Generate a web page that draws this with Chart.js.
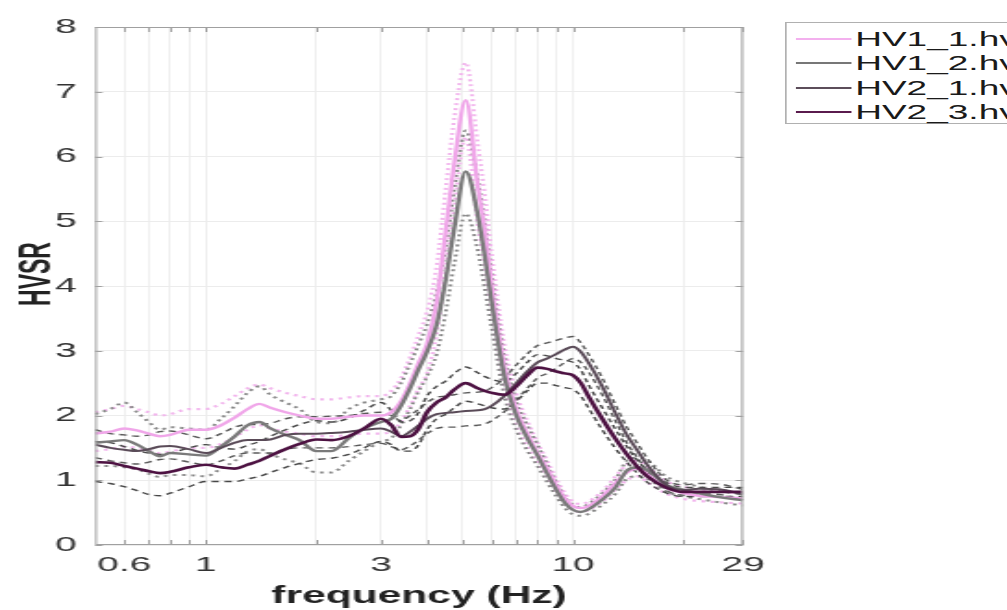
<!DOCTYPE html>
<html>
<head>
<meta charset="utf-8">
<script src="https://cdn.jsdelivr.net/npm/chart.js@4.4.0/dist/chart.umd.min.js"></script>
<style>
  html, body { margin: 0; padding: 0; background: #fff; overflow: hidden; width: 1007px; height: 610px; }
  /* the source figure is stretched ~1.85x horizontally, so draw narrow and stretch */
  #stage { position: absolute; left: 0; top: 0; width: 544px; height: 610px; transform: scaleX(1.851); transform-origin: 0 0; }
  #legend { position: absolute; left: 424px; top: 22px; width: 150px; height: 100px; border: 1px solid #b0b0b0; background: #fff;
            font-family: "Liberation Sans", Arial, sans-serif; font-size: 20px; color: #1a1a1a; }
  .row { position: absolute; left: 0; height: 24px; line-height: 24px; white-space: nowrap; }
  .row i { position: absolute; left: 5px; top: 11px; width: 30px; height: 0; border-top: 2px solid; }
  .row span { position: absolute; left: 37px; }
</style>
</head>
<body>
<div id="stage">
  <canvas id="hvsr"></canvas>
  <div id="legend"></div>
</div>
<script>
// frequency samples (Hz)
const freqs = [0.5, 0.55, 0.6, 0.65, 0.7, 0.75, 0.8, 0.9, 1.0, 1.1, 1.2, 1.3, 1.4, 1.5, 1.65, 1.8, 2.0, 2.2, 2.45, 2.7,
               3.0, 3.2, 3.4, 3.6, 3.8, 4.0, 4.25, 4.5, 4.75, 5.1, 5.5, 5.75, 6.0, 6.5, 7.0, 7.5, 8.0, 8.5, 9.0, 9.5,
               10, 10.5, 11, 12, 13, 14, 15, 16, 18, 20, 22, 25, 29];

// HV1_1
const hv1_1 = [1.72, 1.75, 1.8, 1.77, 1.72, 1.68, 1.7, 1.78, 1.78, 1.85, 1.97, 2.1, 2.18, 2.12, 2.05, 2.0, 1.95, 1.95, 1.98, 2.0,
               2.0, 2.05, 2.22, 2.5, 2.82, 3.1, 3.75, 4.85, 5.9, 6.87, 5.55, 4.85, 4.0, 2.75, 2.1, 1.72, 1.42, 1.18, 0.92, 0.72,
               0.6, 0.57, 0.6, 0.75, 0.95, 1.12, 1.18, 1.08, 0.88, 0.8, 0.76, 0.74, 0.72];
const hv1_1_up = [2.05, 2.1, 2.15, 2.1, 2.05, 2.0, 2.02, 2.1, 2.1, 2.18, 2.3, 2.42, 2.48, 2.42, 2.35, 2.3, 2.25, 2.25, 2.28, 2.3,
                  2.3, 2.38, 2.58, 2.9, 3.25, 3.6, 4.3, 5.5, 6.6, 7.45, 6.2, 5.4, 4.5, 3.1, 2.35, 1.92, 1.58, 1.3, 1.02, 0.8,
                  0.67, 0.63, 0.67, 0.83, 1.05, 1.24, 1.3, 1.2, 0.98, 0.9, 0.85, 0.82, 0.8];
const hv1_1_lo = [1.45, 1.48, 1.52, 1.5, 1.46, 1.42, 1.44, 1.5, 1.5, 1.56, 1.67, 1.78, 1.85, 1.8, 1.75, 1.72, 1.68, 1.68, 1.7, 1.72,
                  1.72, 1.76, 1.9, 2.15, 2.42, 2.65, 3.25, 4.25, 5.25, 6.3, 4.95, 4.3, 3.55, 2.42, 1.85, 1.52, 1.27, 1.05, 0.82, 0.64,
                  0.54, 0.51, 0.54, 0.67, 0.85, 1.0, 1.06, 0.96, 0.79, 0.71, 0.68, 0.66, 0.64];

// HV1_2
const hv1_2 = [1.58, 1.6, 1.62, 1.55, 1.45, 1.37, 1.42, 1.4, 1.38, 1.52, 1.68, 1.85, 1.9, 1.8, 1.7, 1.62, 1.45, 1.45, 1.65, 1.8,
               1.9, 1.95, 2.15, 2.42, 2.72, 2.98, 3.4, 4.1, 4.9, 5.77, 5.1, 4.45, 3.75, 2.6, 2.0, 1.65, 1.38, 1.1, 0.85, 0.65,
               0.54, 0.51, 0.55, 0.7, 0.88, 1.15, 1.2, 1.15, 0.92, 0.85, 0.8, 0.74, 0.69];
const hv1_2_up = [2.02, 2.1, 2.2, 2.05, 1.9, 1.78, 1.82, 1.8, 1.78, 1.95, 2.15, 2.35, 2.45, 2.32, 2.2, 2.1, 1.9, 1.88, 2.1, 2.2,
                  2.25, 2.3, 2.5, 2.8, 3.1, 3.4, 3.9, 4.6, 5.5, 6.4, 5.65, 4.95, 4.15, 2.9, 2.22, 1.85, 1.55, 1.24, 0.96, 0.74,
                  0.62, 0.58, 0.63, 0.8, 1.0, 1.3, 1.35, 1.3, 1.05, 0.96, 0.9, 0.83, 0.78];
const hv1_2_lo = [1.22, 1.22, 1.2, 1.17, 1.1, 1.05, 1.08, 1.08, 1.06, 1.18, 1.3, 1.45, 1.48, 1.4, 1.32, 1.26, 1.12, 1.12, 1.3, 1.45,
                  1.6, 1.65, 1.85, 2.1, 2.38, 2.6, 2.95, 3.6, 4.35, 5.12, 4.55, 3.95, 3.35, 2.3, 1.78, 1.46, 1.22, 0.97, 0.75, 0.57,
                  0.47, 0.45, 0.48, 0.62, 0.78, 1.02, 1.06, 1.02, 0.82, 0.75, 0.71, 0.66, 0.61];

// HV2_1
const hv2_1 = [1.55, 1.5, 1.47, 1.45, 1.48, 1.52, 1.53, 1.48, 1.42, 1.5, 1.58, 1.62, 1.62, 1.63, 1.7, 1.72, 1.72, 1.73, 1.75, 1.78,
               1.8, 1.75, 1.68, 1.75, 1.85, 1.95, 2.02, 2.04, 2.05, 2.07, 2.08, 2.1, 2.15, 2.3, 2.5, 2.68, 2.82, 2.88, 2.95, 3.02,
               3.06, 2.98, 2.82, 2.45, 2.05, 1.7, 1.45, 1.22, 0.92, 0.85, 0.87, 0.86, 0.78];
const hv2_1_up = [1.78, 1.72, 1.7, 1.68, 1.7, 1.75, 1.76, 1.7, 1.64, 1.72, 1.82, 1.86, 1.86, 1.88, 1.95, 1.98, 1.98, 1.99, 2.0, 2.03,
                  2.05, 2.0, 1.92, 2.0, 2.1, 2.2, 2.28, 2.3, 2.32, 2.35, 2.36, 2.38, 2.43, 2.58, 2.78, 2.95, 3.08, 3.12, 3.16, 3.2,
                  3.22, 3.12, 2.95, 2.58, 2.18, 1.82, 1.56, 1.32, 1.0, 0.93, 0.95, 0.94, 0.86];
const hv2_1_lo = [1.35, 1.3, 1.27, 1.25, 1.28, 1.32, 1.33, 1.28, 1.24, 1.3, 1.38, 1.42, 1.42, 1.42, 1.48, 1.5, 1.5, 1.5, 1.52, 1.55,
                  1.57, 1.52, 1.47, 1.53, 1.62, 1.72, 1.8, 1.82, 1.82, 1.84, 1.85, 1.87, 1.92, 2.06, 2.24, 2.42, 2.58, 2.65, 2.73, 2.82,
                  2.88, 2.82, 2.68, 2.32, 1.93, 1.58, 1.34, 1.12, 0.84, 0.77, 0.79, 0.78, 0.7];

// HV2_3
const hv2_3 = [1.28, 1.27, 1.22, 1.18, 1.14, 1.11, 1.13, 1.2, 1.24, 1.2, 1.18, 1.24, 1.3, 1.38, 1.48, 1.56, 1.63, 1.62, 1.68, 1.8,
               1.95, 1.85, 1.67, 1.68, 1.8, 2.05, 2.2, 2.28, 2.4, 2.5, 2.42, 2.38, 2.35, 2.32, 2.45, 2.62, 2.74, 2.72, 2.68, 2.65,
               2.62, 2.5, 2.3, 1.95, 1.65, 1.4, 1.2, 1.05, 0.88, 0.82, 0.82, 0.82, 0.82];
const hv2_3_up = [1.6, 1.58, 1.52, 1.46, 1.42, 1.4, 1.42, 1.5, 1.55, 1.5, 1.48, 1.54, 1.6, 1.68, 1.78, 1.86, 1.92, 1.9, 1.96, 2.08,
                  2.2, 2.08, 1.9, 1.92, 2.05, 2.3, 2.45, 2.53, 2.65, 2.75, 2.66, 2.6, 2.56, 2.52, 2.65, 2.82, 2.94, 2.92, 2.88, 2.85,
                  2.82, 2.7, 2.48, 2.12, 1.8, 1.52, 1.3, 1.14, 0.96, 0.89, 0.89, 0.89, 0.89];
const hv2_3_lo = [0.98, 0.95, 0.9, 0.84, 0.78, 0.76, 0.8, 0.9, 0.98, 0.98, 0.98, 1.02, 1.06, 1.12, 1.2, 1.26, 1.32, 1.34, 1.4, 1.5,
                  1.6, 1.55, 1.45, 1.45, 1.55, 1.78, 1.95, 2.02, 2.12, 2.22, 2.18, 2.15, 2.12, 2.1, 2.22, 2.38, 2.5, 2.5, 2.46, 2.43,
                  2.4, 2.3, 2.12, 1.78, 1.5, 1.28, 1.1, 0.96, 0.8, 0.75, 0.75, 0.75, 0.75];

const series_names = ["HV1_1.hv", "HV1_2.hv", "HV2_1.hv", "HV2_3.hv"];
const x_grid_ticks = [0.6, 0.7, 0.8, 0.9, 1, 2, 3, 4, 5, 6, 7, 8, 9, 10, 20, 29];
const x_tick_labels = [0.6, 1, 3, 10, 29];
const y_tick_labels = [0, 1, 2, 3, 4, 5, 6, 7, 8];

const colours = ["#f0a6e9", "#7a7a7a", "#5a4b58", "#4d1242"];
const std_colours = ["#f2b6ed", "#8a8a8a", "#5a5a5a", "#474747"];

function pts(arr) {
    return freqs.map((f, i) => ({ x: f, y: arr[i] }));
}

function meanLine(label, arr, k, width, order) {
    return { label: label, data: pts(arr), borderColor: colours[k], borderWidth: width,
             pointRadius: 0, cubicInterpolationMode: 'monotone', fill: false, order: order };
}

function stdLine(arr, k, dash, width, order) {
    return { label: '', data: pts(arr), borderColor: std_colours[k], borderWidth: width, borderDash: dash,
             pointRadius: 0, cubicInterpolationMode: 'monotone', fill: false, order: order };
}

const datasets = [
    meanLine(series_names[3], hv2_3, 3, 2.6, 0),
    meanLine(series_names[2], hv2_1, 2, 2, 1),
    meanLine(series_names[1], hv1_2, 1, 2.4, 2),
    meanLine(series_names[0], hv1_1, 0, 2.4, 3),
    stdLine(hv2_3_up, 3, [4, 3], 1.4, 4),
    stdLine(hv2_3_lo, 3, [4, 3], 1.4, 4),
    stdLine(hv2_1_up, 2, [4, 3], 1.4, 5),
    stdLine(hv2_1_lo, 2, [4, 3], 1.4, 5),
    stdLine(hv1_2_up, 1, [2, 3], 2, 6),
    stdLine(hv1_2_lo, 1, [2, 3], 2, 6),
    stdLine(hv1_1_up, 0, [2, 3], 2.2, 7),
    stdLine(hv1_1_lo, 0, [2, 3], 2.2, 7)
];

const font_family = '"Liberation Sans", Arial, sans-serif';

// axes box, inward tick marks (MATLAB style) and the y title
const boxPlugin = {
    id: 'box',
    afterDatasetsDraw(chart) {
        const { ctx, chartArea: a, scales } = chart;
        ctx.save();
        ctx.strokeStyle = '#a0a0a0';
        ctx.lineWidth = 1;
        ctx.strokeRect(a.left + 0.5, a.top + 0.5, a.right - a.left - 1, a.bottom - a.top - 1);
        ctx.beginPath();
        x_grid_ticks.forEach(v => {
            const px = Math.round(scales.x.getPixelForValue(v)) + 0.5;
            ctx.moveTo(px, a.bottom); ctx.lineTo(px, a.bottom - 5);
            ctx.moveTo(px, a.top); ctx.lineTo(px, a.top + 5);
        });
        y_tick_labels.forEach(v => {
            const py = Math.round(scales.y.getPixelForValue(v)) + 0.5;
            ctx.moveTo(a.left, py); ctx.lineTo(a.left + 4, py);
            ctx.moveTo(a.right, py); ctx.lineTo(a.right - 4, py);
        });
        ctx.stroke();

        ctx.translate(20.5, 274);
        ctx.rotate(-Math.PI / 2);
        ctx.fillStyle = '#222';
        ctx.font = 'bold 23px ' + font_family;
        ctx.textAlign = 'center';
        ctx.textBaseline = 'middle';
        ctx.fillText('HVSR', 0, 0);
        ctx.restore();
    }
};

new Chart(document.getElementById("hvsr"), {
    type: 'line',
    data: { datasets: datasets },
    options: {
        responsive: true,
        maintainAspectRatio: false,
        animation: false,
        layout: { padding: { left: 0, right: 142.6, top: 27, bottom: 0 } },
        plugins: { legend: { display: false }, tooltip: { enabled: false } },
        scales: {
            x: {
                type: 'logarithmic',
                min: 0.5,
                max: 29,
                afterBuildTicks: (scale) => { scale.ticks = x_grid_ticks.map(v => ({ value: v })); },
                afterFit: (scale) => { scale.height = 65; },
                ticks: {
                    autoSkip: false, maxRotation: 0, padding: 8,
                    color: '#333', font: { family: font_family, size: 21 },
                    callback: (v) => x_tick_labels.includes(v) ? String(v) : ''
                },
                grid: { color: '#efefef', drawTicks: false },
                border: { display: false },
                title: { display: true, text: 'frequency (Hz)', color: '#222', padding: { top: 0, bottom: 0 },
                         font: { family: font_family, size: 23, weight: 'bold' } }
            },
            y: {
                min: 0,
                max: 8,
                afterBuildTicks: (scale) => { scale.ticks = y_tick_labels.map(v => ({ value: v })); },
                afterFit: (scale) => { scale.width = 51.4; },
                ticks: { padding: 10, color: '#333', font: { family: font_family, size: 21 } },
                grid: { color: '#ececec', drawTicks: false },
                border: { display: false }
            }
        }
    },
    plugins: [boxPlugin]
});

// legend
const legend = document.getElementById("legend");
const legend_colours = ["#f3b0ee", "#777777", "#5c4d5a", "#5a1b4d"];
const row_tops = [4, 28, 53, 77];
for (let i = 0; i < series_names.length; i ++) {
    const row = document.createElement("div");
    row.className = "row";
    row.style.top = row_tops[i] + "px";
    row.innerHTML = `<i style="border-color:${legend_colours[i]}"></i><span>${series_names[i]}</span>`;
    legend.appendChild(row);
}
</script>
</body>
</html>
